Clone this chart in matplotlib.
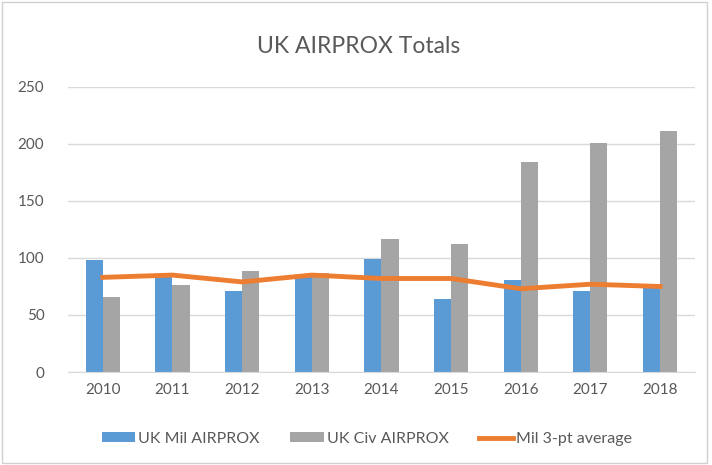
import numpy as np
import matplotlib.pyplot as plt
from matplotlib.patches import Rectangle

plt.rcParams['font.family'] = ['Lato', 'DejaVu Sans']

years = ['2010', '2011', '2012', '2013', '2014', '2015', '2016', '2017', '2018']
mil = [98, 84, 71, 83, 99, 64, 81, 71, 77]
civ = [66, 76, 89, 87, 117, 112, 184, 201, 211]
mil_avg = [83, 85, 79, 85, 82, 82, 73, 77, 75]

c_mil = '#5B9BD5'
c_civ = '#A5A5A5'
c_avg = '#ED7D31'
c_txt = '#595959'

fig = plt.figure(figsize=(7.12, 4.65), dpi=100)
fig.patches.append(Rectangle((0.003, 0.005), 0.99, 0.99, transform=fig.transFigure,
                             fill=False, edgecolor='#D0D0D0', linewidth=1))
ax = fig.add_axes([0.0955, 0.2, 0.8805, 0.613])

x = np.arange(len(years))
w = 0.245
b1 = ax.bar(x - w / 2, mil, w, color=c_mil, label='UK Mil AIRPROX', zorder=2)
b2 = ax.bar(x + w / 2, civ, w, color=c_civ, label='UK Civ AIRPROX', zorder=2)
l1, = ax.plot(x, mil_avg, color=c_avg, linewidth=3.5, label='Mil 3-pt average', zorder=3)

ax.set_xlim(-0.5, len(years) - 0.5)
ax.set_ylim(0, 250)
ax.set_yticks(range(0, 251, 50))
ax.set_xticks(x)
ax.set_xticklabels(years)
ax.grid(axis='y', color='#D9D9D9', linewidth=1, zorder=0)
ax.set_axisbelow(True)
for s in ['top', 'right', 'left']:
    ax.spines[s].set_visible(False)
ax.spines['bottom'].set_color('#D9D9D9')
ax.tick_params(axis='both', length=0, colors=c_txt, labelsize=11)
ax.tick_params(axis='y', pad=17)
ax.tick_params(axis='x', pad=8)

fig.text(0.503, 0.9, 'UK AIRPROX Totals', ha='center', va='center',
         fontsize=16.5, color=c_txt)

fig.legend([b1, b2, l1], ['UK Mil AIRPROX', 'UK Civ AIRPROX', 'Mil 3-pt average'],
           loc='center', bbox_to_anchor=(0.515, 0.056), ncol=3, frameon=False,
           fontsize=11.5, labelcolor=c_txt, handlelength=2.1, handleheight=0.6,
           columnspacing=1.9, handletextpad=0.2)

fig.savefig('out.png', dpi=100)
